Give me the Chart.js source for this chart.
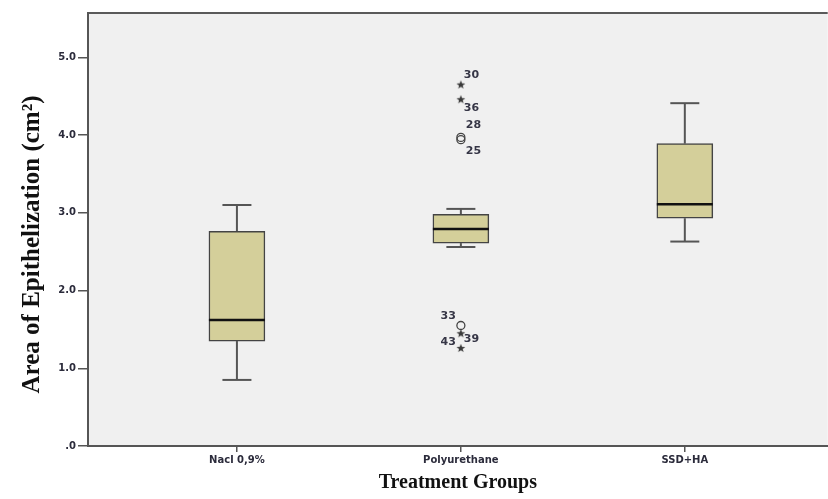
<!DOCTYPE html>
<html>
<head>
<meta charset="utf-8">
<script src="https://cdn.jsdelivr.net/npm/chart.js@4/dist/chart.umd.min.js"></script>
<style>
  html, body { margin: 0; padding: 0; background: #ffffff; overflow: hidden; }
  #wrap { width: 828px; height: 499px; position: relative; overflow: hidden; }
</style>
</head>
<body>
<div id="wrap"><canvas id="c" width="834" height="499"></canvas></div>
<script>
// ---- data ----
const categories = ['Nacl 0,9%', 'Polyurethane', 'SSD+HA'];
const whiskerLow  = [0.85, 2.56, 2.63];
const q1          = [1.35, 2.61, 2.93];
const median      = [1.62, 2.79, 3.11];
const q3          = [2.76, 2.98, 3.89];
const whiskerHigh = [3.10, 3.05, 4.41];

const outlierGroup  = [1, 1, 1, 1, 1, 1, 1];
const outlierValues = [4.65, 4.46, 3.97, 3.94, 1.55, 1.45, 1.26];
const outlierIds    = ['30', '36', '28', '25', '33', '39', '43'];
const outlierKind   = ['star', 'star', 'circle', 'circle', 'circle', 'star', 'star'];

const yTickValues = [0, 1, 2, 3, 4, 5];
const yTickLabels = ['.0', '1.0', '2.0', '3.0', '4.0', '5.0'];

const xTitle = 'Treatment Groups';
const yTitle = 'Area of Epithelization (cm²)';

// ---- styling / layout helpers ----
const tickFont = { family: 'DejaVu Sans', size: 10, weight: 'bold' };
const labelOffsets = {
  '30': [3, -9, 'left'], '36': [3, 9, 'left'], '28': [5, -12, 'left'], '25': [5, 11, 'left'],
  '33': [-5, -9, 'right'], '39': [3, 6, 'left'], '43': [-5, -6, 'right']
};

function makeStar() {
  const s = 10, c = document.createElement('canvas');
  c.width = s; c.height = s;
  const g = c.getContext('2d');
  g.fillStyle = '#3a3a3a';
  g.beginPath();
  for (let k = 0; k < 10; k++) {
    const r = k % 2 === 0 ? 4.6 : 1.9;
    const a = -Math.PI / 2 + k * Math.PI / 5;
    const px = s / 2 + r * Math.cos(a), py = s / 2 + 0.4 + r * Math.sin(a);
    if (k === 0) g.moveTo(px, py); else g.lineTo(px, py);
  }
  g.closePath();
  g.fill();
  return c;
}
const starImg = makeStar();

const plotBg = {
  id: 'plotBg',
  beforeDraw(chart) {
    const { ctx, chartArea: a } = chart;
    ctx.save();
    ctx.fillStyle = '#f0f0f0';
    ctx.fillRect(a.left, a.top, a.right - a.left, a.bottom - a.top);
    ctx.strokeStyle = '#5a5a5a';
    ctx.lineWidth = 2;
    ctx.beginPath();
    ctx.moveTo(a.left - 1, a.top);
    ctx.lineTo(a.right, a.top);
    ctx.stroke();
    ctx.restore();
  },
  afterDraw(chart) {
    const { ctx, chartArea: a } = chart;
    ctx.save();
    ctx.translate(33, (a.top + a.bottom) / 2 + 15);
    ctx.rotate(-Math.PI / 2);
    ctx.fillStyle = '#111111';
    ctx.font = 'bold 25px "Liberation Serif"';
    ctx.textAlign = 'center';
    ctx.textBaseline = 'middle';
    ctx.fillText(yTitle, 0, 0);
    ctx.restore();
  }
};

const boxParts = {
  id: 'boxParts',
  beforeDatasetsDraw(chart) {
    const { ctx } = chart;
    const xs = chart.scales.x, ys = chart.scales.y;
    ctx.save();
    ctx.strokeStyle = '#555555';
    ctx.lineWidth = 2;
    categories.forEach((c, i) => {
      const x = xs.getPixelForValue(i);
      const cap = 14.5;
      [[q3[i], whiskerHigh[i]], [q1[i], whiskerLow[i]]].forEach(([a, b]) => {
        ctx.beginPath();
        ctx.moveTo(x, ys.getPixelForValue(a));
        ctx.lineTo(x, ys.getPixelForValue(b));
        ctx.stroke();
        ctx.beginPath();
        ctx.moveTo(x - cap, ys.getPixelForValue(b));
        ctx.lineTo(x + cap, ys.getPixelForValue(b));
        ctx.stroke();
      });
    });
    ctx.restore();
  },
  afterDatasetsDraw(chart) {
    const { ctx } = chart;
    const xs = chart.scales.x, ys = chart.scales.y;
    const meta = chart.getDatasetMeta(0);
    ctx.save();
    ctx.strokeStyle = '#111111';
    ctx.lineWidth = 2.5;
    categories.forEach((c, i) => {
      const el = meta.data[i];
      const x = xs.getPixelForValue(i);
      const hw = el.width / 2;
      const y = ys.getPixelForValue(median[i]);
      ctx.beginPath();
      ctx.moveTo(x - hw, y);
      ctx.lineTo(x + hw, y);
      ctx.stroke();
    });
    ctx.fillStyle = '#363646';
    ctx.font = 'bold 11px "DejaVu Sans"';
    ctx.textBaseline = 'middle';
    outlierValues.forEach((v, k) => {
      const x = xs.getPixelForValue(outlierGroup[k]);
      const y = ys.getPixelForValue(v);
      const o = labelOffsets[outlierIds[k]];
      ctx.textAlign = o[2];
      ctx.fillText(outlierIds[k], x + o[0], y + o[1]);
    });
    ctx.restore();
  }
};

new Chart(document.getElementById('c'), {
  type: 'bar',
  data: {
    datasets: [
      {
        type: 'bar',
        data: categories.map((c, i) => ({ x: i, y: [q1[i], q3[i]] })),
        backgroundColor: '#d4cf9a',
        borderColor: '#444444',
        borderWidth: 1.5,
        borderSkipped: false,
        barThickness: 56,
        grouped: false
      },
      {
        type: 'scatter',
        data: outlierValues.map((v, k) => ({ x: outlierGroup[k], y: v })),
        pointStyle: outlierKind.map(k => k === 'star' ? starImg : 'circle'),
        radius: outlierKind.map(k => k === 'star' ? 5 : 4),
        backgroundColor: 'rgba(0,0,0,0)',
        borderColor: '#444444',
        borderWidth: 1.3
      }
    ]
  },
  options: {
    responsive: false,
    animation: false,
    events: [],
    layout: { padding: { top: 13, right: 0, left: 0, bottom: 0 } },
    plugins: { legend: { display: false }, tooltip: { enabled: false } },
    scales: {
      x: {
        type: 'linear',
        min: -0.665,
        max: 2.638,
        offset: false,
        afterBuildTicks(scale) { scale.ticks = categories.map((c, i) => ({ value: i })); },
        afterFit(scale) { scale.height = 53; },
        ticks: {
          callback: (v) => categories[v],
          font: tickFont,
          color: '#2b2b3b',
          padding: 2,
          maxRotation: 0,
          autoSkip: false
        },
        grid: { offset: false, drawOnChartArea: false, drawTicks: true, tickLength: 6, color: '#555555', lineWidth: 1.5 },
        border: { display: true, color: '#555555', width: 2 },
        title: {
          display: true,
          text: xTitle,
          font: { family: 'Liberation Serif', size: 20, weight: 'bold' },
          color: '#111111',
          padding: { top: 0, bottom: 4 }
        }
      },
      y: {
        type: 'linear',
        min: 0,
        max: 5.57,
        afterBuildTicks(scale) { scale.ticks = yTickValues.map(v => ({ value: v })); },
        afterFit(scale) { scale.width = 88; },
        ticks: {
          callback: (v) => yTickLabels[yTickValues.indexOf(v)],
          font: tickFont,
          color: '#2b2b3b',
          padding: 2
        },
        grid: { drawOnChartArea: false, drawTicks: true, tickLength: 10, color: '#555555', lineWidth: 1.5 },
        border: { display: true, color: '#555555', width: 2 },
        title: { display: false }
      }
    }
  },
  plugins: [plotBg, boxParts]
});
</script>
</body>
</html>
